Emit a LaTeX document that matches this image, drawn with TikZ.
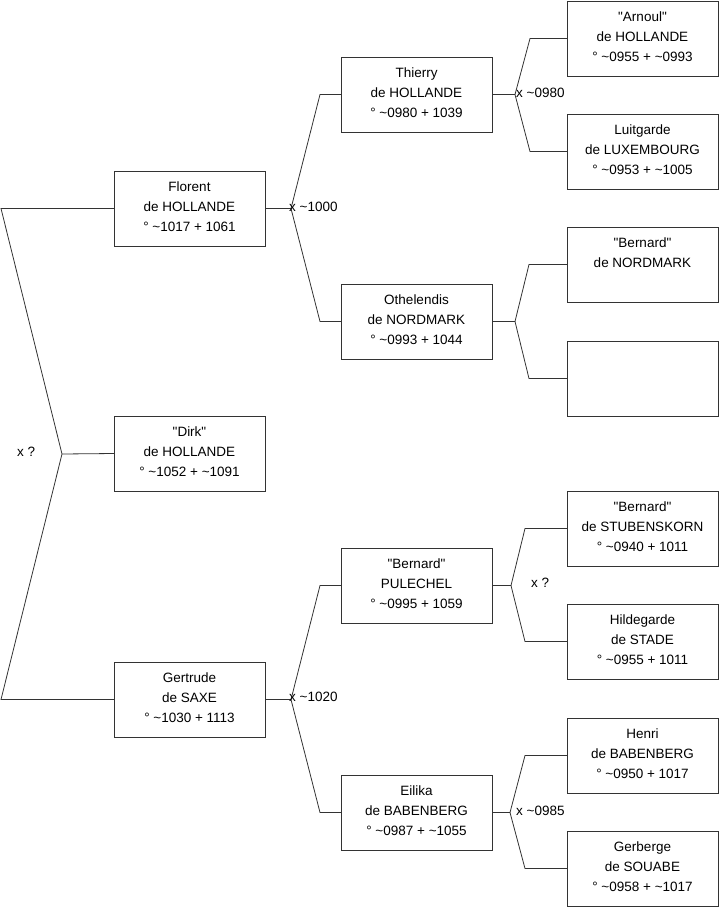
\documentclass[tikz,border=0pt]{standalone}
\usepackage{fontspec}
\setmainfont{Liberation Sans}
\newcommand\tld{\textasciitilde}
\newcommand\qq{\textquotedbl}
\begin{document}
\begin{tikzpicture}[x=1pt,y=-1pt,
  box/.style={draw=black!80, line width=0.8pt, minimum width=151pt, minimum height=75pt, anchor=north west, inner sep=0pt, outer sep=0pt},
  ptext/.style={anchor=north, align=center, inner sep=0pt, font=\fontsize{13.5}{20}\selectfont, text=black},
  conn/.style={draw=black!80, line width=0.8pt},
  lbl/.style={anchor=west, inner sep=0pt, font=\fontsize{13.5}{16}\selectfont, text=black}]
\useasboundingbox (0,0) rectangle (719,908);

% column 1
\node[box] (florent) at (114,171) {};
\node[box] (dirk) at (114,416) {};
\node[box] (gertrude) at (114,662) {};
% column 2
\node[box] (thierry) at (341,57) {};
\node[box] (othelendis) at (341,284) {};
\node[box] (pulechel) at (341,548) {};
\node[box] (eilika) at (341,775) {};
% column 3
\node[box] (arnoul) at (567,1) {};
\node[box] (luitgarde) at (567,114) {};
\node[box] (bernardn) at (567,227) {};
\node[box] (empty) at (567,341) {};
\node[box] (stubenskorn) at (567,491) {};
\node[box] (hildegarde) at (567,604) {};
\node[box] (henri) at (567,718) {};
\node[box] (gerberge) at (567,831) {};

% texts
\node[ptext] (florent-t) at ([yshift=-11pt]florent.north) {Florent\\de HOLLANDE\\° \tld1017 + 1061};
\node[ptext] (dirk-t) at ([yshift=-11pt]dirk.north) {\qq Dirk\qq\\de HOLLANDE\\° \tld1052 + \tld1091};
\node[ptext] (gertrude-t) at ([yshift=-11pt]gertrude.north) {Gertrude\\de SAXE\\° \tld1030 + 1113};
\node[ptext] (thierry-t) at ([yshift=-11pt]thierry.north) {Thierry\\de HOLLANDE\\° \tld0980 + 1039};
\node[ptext] (othelendis-t) at ([yshift=-11pt]othelendis.north) {Othelendis\\de NORDMARK\\° \tld0993 + 1044};
\node[ptext] (pulechel-t) at ([yshift=-11pt]pulechel.north) {\qq Bernard\qq\\PULECHEL\\° \tld0995 + 1059};
\node[ptext] (eilika-t) at ([yshift=-11pt]eilika.north) {Eilika\\de BABENBERG\\° \tld0987 + \tld1055};
\node[ptext] (arnoul-t) at ([yshift=-11pt]arnoul.north) {\qq Arnoul\qq\\de HOLLANDE\\° \tld0955 + \tld0993};
\node[ptext] (luitgarde-t) at ([yshift=-11pt]luitgarde.north) {Luitgarde\\de LUXEMBOURG\\° \tld0953 + \tld1005};
\node[ptext] (bernardn-t) at ([yshift=-11pt]bernardn.north) {\qq Bernard\qq\\de NORDMARK};
\node[ptext] (stubenskorn-t) at ([yshift=-11pt]stubenskorn.north) {\qq Bernard\qq\\de STUBENSKORN\\° \tld0940 + 1011};
\node[ptext] (hildegarde-t) at ([yshift=-11pt]hildegarde.north) {Hildegarde\\de STADE\\° \tld0955 + 1011};
\node[ptext] (henri-t) at ([yshift=-11pt]henri.north) {Henri\\de BABENBERG\\° \tld0950 + 1017};
\node[ptext] (gerberge-t) at ([yshift=-11pt]gerberge.north) {Gerberge\\de SOUABE\\° \tld0958 + \tld1017};

% left fork
\coordinate (lt) at (1,208.5);
\coordinate (lf) at (62,454);
\coordinate (lb) at (1,699.5);
\draw[conn] (florent.west) -- (lt) -- (lf) -- (lb) -- (gertrude.west);
\draw[conn] (lf) -- (dirk.west);
\node[lbl] (lbl-dirk) at ([xshift=-45pt,yshift=2pt]lf) {x ?};

% forks to column 2
\coordinate (ff) at ([xshift=26pt]florent.east);
\draw[conn] (florent.east) -- (ff) -- ([xshift=-21pt]thierry.west) -- (thierry.west);
\draw[conn] (ff) -- ([xshift=-21pt]othelendis.west) -- (othelendis.west);
\node[lbl] (lbl-florent) at ([xshift=24pt,yshift=2pt]florent.east) {x \tld1000};

\coordinate (gf) at ([xshift=26pt]gertrude.east);
\draw[conn] (gertrude.east) -- (gf) -- ([xshift=-21pt]pulechel.west) -- (pulechel.west);
\draw[conn] (gf) -- ([xshift=-21pt]eilika.west) -- (eilika.west);
\node[lbl] (lbl-gertrude) at ([xshift=24pt,yshift=2.5pt]gertrude.east) {x \tld1020};

% forks to column 3
\coordinate (tf) at ([xshift=23pt]thierry.east);
\draw[conn] (thierry.east) -- (tf) -- ([xshift=-37pt]arnoul.west) -- (arnoul.west);
\draw[conn] (tf) -- ([xshift=-37pt]luitgarde.west) -- (luitgarde.west);
\node[lbl] (lbl-thierry) at ([xshift=24pt,yshift=2pt]thierry.east) {x \tld0980};

\coordinate (of) at ([xshift=23pt]othelendis.east);
\draw[conn] (othelendis.east) -- (of) -- ([xshift=-38pt]bernardn.west) -- (bernardn.west);
\draw[conn] (of) -- ([xshift=-38pt]empty.west) -- (empty.west);

\coordinate (pf) at ([xshift=19pt]pulechel.east);
\draw[conn] (pulechel.east) -- (pf) -- ([xshift=-42pt]stubenskorn.west) -- (stubenskorn.west);
\draw[conn] (pf) -- ([xshift=-42pt]hildegarde.west) -- (hildegarde.west);
\node[lbl] (lbl-pulechel) at ([xshift=39pt,yshift=2.5pt]pulechel.east) {x ?};

\coordinate (ef) at ([xshift=18pt]eilika.east);
\draw[conn] (eilika.east) -- (ef) -- ([xshift=-42pt]henri.west) -- (henri.west);
\draw[conn] (ef) -- ([xshift=-42pt]gerberge.west) -- (gerberge.west);
\node[lbl] (lbl-eilika) at ([xshift=24pt,yshift=2pt]eilika.east) {x \tld0985};
\end{tikzpicture}
\end{document}
